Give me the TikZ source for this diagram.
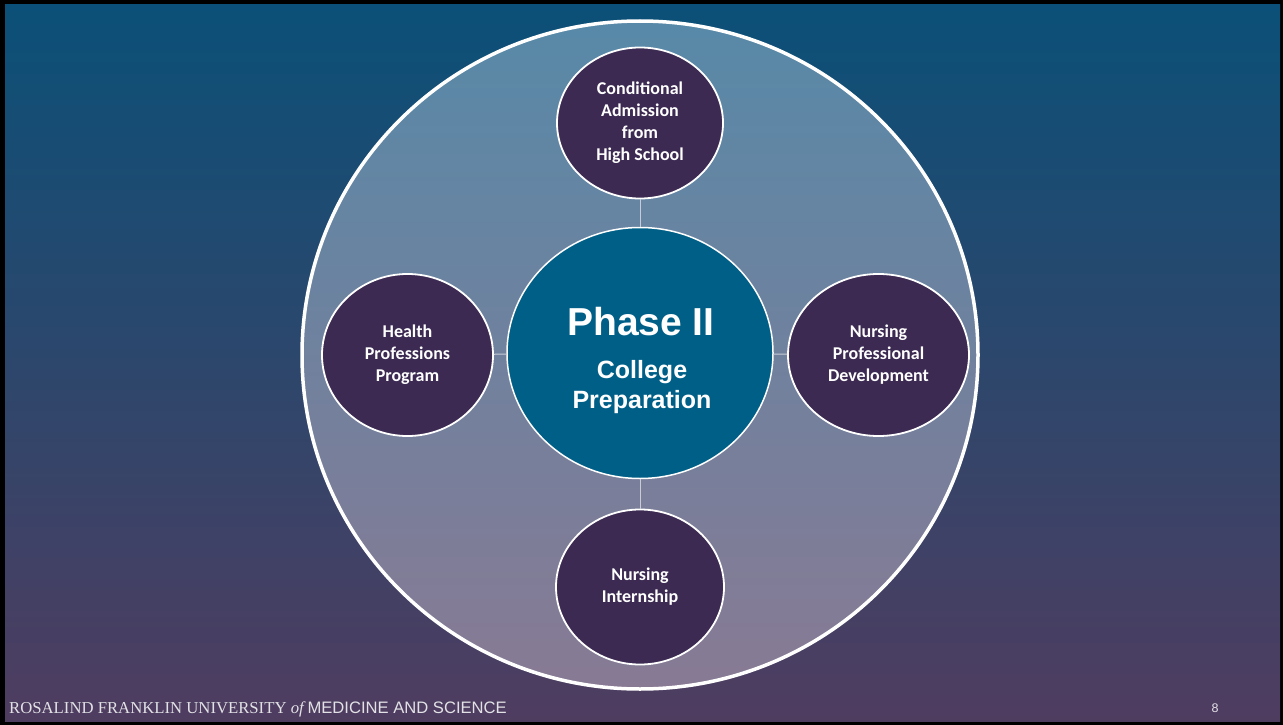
\documentclass[tikz,border=0pt]{standalone}
\usepackage{fontspec}
\setmainfont{Liberation Sans}
\newfontfamily\calib{Carlito}
\newfontfamily\tnr{Liberation Serif}
\usetikzlibrary{shapes.geometric}
\definecolor{bgtop}{HTML}{0B5078}
\definecolor{bgbot}{HTML}{4F3D60}
\definecolor{bctop}{HTML}{5889A8}
\definecolor{bcbot}{HTML}{887A94}
\definecolor{ctrfill}{HTML}{005F87}
\definecolor{smallfill}{HTML}{3C2A52}
\definecolor{connc}{HTML}{C9CBD6}
\definecolor{foot}{HTML}{E2E2E6}
\begin{document}
\begin{tikzpicture}[x=1pt,y=-1pt,
  smallc/.style={ellipse, draw=white, line width=1.8pt, fill=smallfill, inner sep=0pt,
    text=white, align=center, font=\calib\bfseries\fontsize{18}{22}\selectfont},
  ctrtxt/.style={text=white, anchor=base, inner sep=0pt, font=\bfseries\fontsize{25}{30}\selectfont},
  conn/.style={draw=connc, line width=1pt}]
\useasboundingbox (0,0) rectangle (1283,725);
\fill[black] (0,0) rectangle (1283,725);
\shade[top color=bgtop,bottom color=bgbot] (5,5) rectangle (1280,721);
\node[ellipse, draw=white, line width=3.5pt, minimum width=676pt, minimum height=668pt,
  inner sep=0pt, top color=bctop, bottom color=bcbot] (outer) at (640,355) {};
\node[ellipse, draw=white, line width=1.5pt, fill=ctrfill, minimum width=266pt,
  minimum height=251pt, inner sep=0pt] (ctr) at (640,353) {};
\node[ctrtxt, font=\bfseries\fontsize{39}{40}\selectfont] (ctrtitle) at (641,335) {Phase II};
\node[ctrtxt] (ctrline1) at (642,378) {College};
\node[ctrtxt] (ctrline2) at (642,408) {Preparation};
\node[smallc, minimum width=166pt, minimum height=151pt] (top) at (640,123)
  {Conditional\\Admission\\from\\High School};
\node[smallc, minimum width=171pt, minimum height=162pt] (left) at (407.5,355)
  {Health\\Professions\\Program};
\node[smallc, minimum width=181pt, minimum height=162pt] (right) at (878.5,355)
  {Nursing\\Professional\\Development};
\node[smallc, minimum width=168pt, minimum height=155pt] (bottom) at (640,587)
  {Nursing\\Internship};
\draw[conn] (top) -- (ctr);
\draw[conn] (left) -- (ctr);
\draw[conn] (right) -- (ctr);
\draw[conn] (bottom) -- (ctr);
\node[anchor=base west, inner sep=0pt, text=foot] (footer) at (9,713)
  {{\tnr\fontsize{16.7}{18}\selectfont ROSALIND FRANKLIN UNIVERSITY \itshape of}\hspace{1pt} {\fontsize{16.6}{18}\selectfont MEDICINE AND SCIENCE}};
\node[anchor=base, inner sep=0pt, text=foot, font=\fontsize{12.5}{14}\selectfont] (pnum) at (1215,712.5) {8};
\end{tikzpicture}
\end{document}
